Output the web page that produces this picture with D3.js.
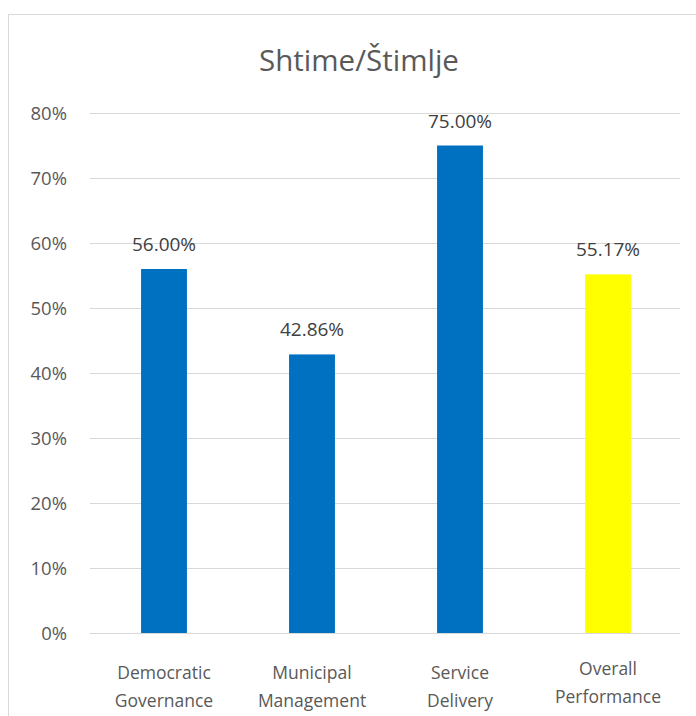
<!DOCTYPE html>
<html><head><meta charset="utf-8">
<script src="https://cdn.jsdelivr.net/npm/d3@7"></script>
<style>body{margin:0;background:#fff}svg{display:block}</style>
</head><body>
<script>
const title = "Shtime/Štimlje";
const categories = [["Democratic","Governance"],["Municipal","Management"],["Service","Delivery"],["Overall","Performance"]];
const values = [56.00, 42.86, 75.00, 55.17];
const colors = ["#0070C0","#0070C0","#0070C0","#FFFF00"];
const ticks = [0,10,20,30,40,50,60,70,80];
const font = "'Open Sans', sans-serif";

const W = 696, H = 716;
const svg = d3.select("body").append("svg").attr("width", W).attr("height", H);
svg.append("rect").attr("x", 8.5).attr("y", 14.5).attr("width", 700).attr("height", 720)
  .attr("fill", "#fff").attr("stroke", "#d9d9d9");

const x = d3.scaleBand().domain(d3.range(categories.length)).range([90, 682]).paddingInner(0.69).paddingOuter(0.345);
const y = d3.scaleLinear().domain([0, 80]).range([633, 113]);

svg.append("text").attr("x", 359).attr("y", 71).attr("text-anchor", "middle")
  .attr("font-family", font).attr("font-size", 29.5).attr("fill", "#595959").text(title);

const g = svg.append("g");
g.selectAll("line.grid").data(ticks).join("line").attr("class","grid")
  .attr("x1", 90).attr("x2", 680).attr("y1", d => Math.round(y(d)) + 0.5).attr("y2", d => Math.round(y(d)) + 0.5)
  .attr("stroke", "#d9d9d9").attr("stroke-width", 1.2);

const yAxis = d3.axisLeft(y).tickValues(ticks).tickFormat(d => d + "%").tickSize(0).tickPadding(0);
const ya = svg.append("g").attr("transform", "translate(67,0)").call(yAxis);
ya.select(".domain").remove();
ya.selectAll("text").attr("font-family", font).attr("font-size", 18.5).attr("fill", "#595959").attr("dy", "0.35em");

g.selectAll("rect.bar").data(values).join("rect").attr("class","bar")
  .attr("x", (d,i) => x(i)).attr("width", x.bandwidth())
  .attr("y", d => y(d)).attr("height", d => y(0) - y(d))
  .attr("fill", (d,i) => colors[i]);

g.selectAll("text.lbl").data(values).join("text").attr("class","lbl")
  .attr("x", (d,i) => x(i) + x.bandwidth()/2).attr("y", d => y(d) - 18)
  .attr("text-anchor", "middle").attr("font-family", font).attr("font-size", 19).attr("fill", "#404040")
  .text(d => d.toFixed(2) + "%");

const cl = svg.selectAll("text.cat").data(categories).join("text").attr("class","cat")
  .attr("text-anchor", "middle").attr("font-family", font).attr("font-size", 17.5).attr("fill", "#595959");
cl.each(function(d, i) {
  const t = d3.select(this);
  const cx = x(i) + x.bandwidth()/2;
  const y0 = i === 3 ? 675 : 679;
  d.forEach((s, j) => t.append("tspan").attr("x", cx).attr("y", y0 + j*28).text(s));
});
</script>
</body></html>
